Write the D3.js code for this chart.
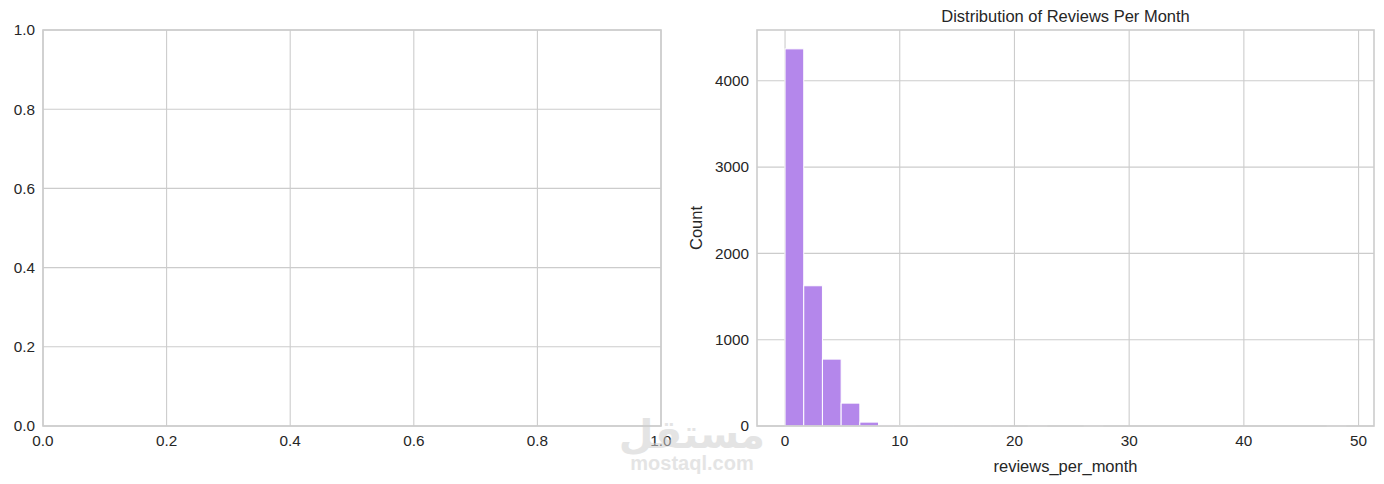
<!DOCTYPE html>
<html><head><meta charset="utf-8">
<script src="https://cdn.jsdelivr.net/npm/d3@7"></script>
<style>body{margin:0;background:#fff;} text{font-family:"Liberation Sans",Arial,sans-serif;fill:#262626;}</style>
</head><body>
<svg id="c" width="1384" height="484"></svg>
<script>
// ---- data ----
const emptyTicks = [0, 0.2, 0.4, 0.6, 0.8, 1.0];
const binStart = 0;
const binEnd = 48.9;
const binCounts = [4370, 1625, 775, 265, 45, 12, 6, 3, 2, 1, 1, 1, 0, 1, 0, 0, 1, 0, 0, 0, 0, 0, 0, 0, 0, 0, 0, 0, 0, 1];
const xTicks = [0, 10, 20, 30, 40, 50];
const yTicks = [0, 1000, 2000, 3000, 4000];
const title = "Distribution of Reviews Per Month";
const xLabel = "reviews_per_month";
const yLabel = "Count";

const svg = d3.select("#c");
const grid = "#cccccc";

function panel(x0, x1, y0, y1) { return {x0, x1, y0, y1}; }
const L = panel(43, 661, 30, 426);
const R = panel(757, 1374, 30, 426);

function drawGrid(g, p, xs, ys, xt, yt, xfmt, yfmt) {
  xt.forEach(v => g.append("line").attr("x1", xs(v)).attr("x2", xs(v)).attr("y1", p.y0).attr("y2", p.y1)
    .attr("stroke", grid).attr("stroke-width", 1.1));
  yt.forEach(v => g.append("line").attr("y1", ys(v)).attr("y2", ys(v)).attr("x1", p.x0).attr("x2", p.x1)
    .attr("stroke", grid).attr("stroke-width", 1.1));
  xt.forEach(v => g.append("text").attr("x", xs(v)).attr("y", p.y1 + 20).attr("text-anchor", "middle")
    .attr("font-size", "15.3px").text(xfmt(v)));
  yt.forEach(v => g.append("text").attr("x", p.x0 - 8).attr("y", ys(v)).attr("dy", "0.35em").attr("text-anchor", "end")
    .attr("font-size", "15.3px").text(yfmt(v)));
}
function drawFrame(g, p) {
  g.append("rect").attr("x", p.x0).attr("y", p.y0).attr("width", p.x1 - p.x0).attr("height", p.y1 - p.y0)
    .attr("fill", "none").attr("stroke", grid).attr("stroke-width", 1.6);
}

// ---- left empty axes ----
const gL = svg.append("g");
const xL = d3.scaleLinear().domain([0, 1]).range([L.x0, L.x1]);
const yL = d3.scaleLinear().domain([0, 1]).range([L.y1, L.y0]);
drawGrid(gL, L, xL, yL, emptyTicks, emptyTicks, d3.format(".1f"), d3.format(".1f"));
drawFrame(gL, L);

// ---- right histogram ----
const gR = svg.append("g");
const nb = binCounts.length;
const bw = (binEnd - binStart) / nb;
const bins = binCounts.map((c, i) => ({x0: binStart + i * bw, x1: binStart + (i + 1) * bw, c}));
const span = binEnd - binStart;
const xR = d3.scaleLinear().domain([binStart - 0.05 * span, binEnd + 0.05 * span]).range([R.x0, R.x1]);
const maxC = d3.max(binCounts);
const yR = d3.scaleLinear().domain([0, maxC * 1.05]).range([R.y1, R.y0]);
drawGrid(gR, R, xR, yR, xTicks, yTicks, d3.format("d"), d3.format("d"));

gR.selectAll("rect.bar").data(bins.filter(b => b.c > 0)).enter().append("rect")
  .attr("class", "bar")
  .attr("x", d => xR(d.x0)).attr("width", d => xR(d.x1) - xR(d.x0))
  .attr("y", d => yR(d.c)).attr("height", d => yR(0) - yR(d.c))
  .attr("fill", "#b487eb").attr("stroke", "#ffffff").attr("stroke-width", 1);
drawFrame(gR, R);

gR.append("text").attr("x", (R.x0 + R.x1) / 2).attr("y", 22).attr("text-anchor", "middle")
  .attr("font-size", "16.5px").text(title);
gR.append("text").attr("x", (R.x0 + R.x1) / 2).attr("y", 472).attr("text-anchor", "middle")
  .attr("font-size", "16.5px").text(xLabel);
gR.append("text").attr("transform", `translate(702,${(R.y0 + R.y1) / 2}) rotate(-90)`).attr("text-anchor", "middle")
  .attr("font-size", "16.5px").text(yLabel);

// ---- watermark ----
const wm = svg.append("g").attr("opacity", 0.55);
wm.append("text").attr("x", 692).attr("y", 448).attr("text-anchor", "middle")
  .attr("font-size", "40px").attr("font-weight", "bold").style("fill", "#cfcfcf")
  .style("font-family", "'DejaVu Sans','Noto Sans',sans-serif").text("مستقل");
wm.append("text").attr("x", 692).attr("y", 470).attr("text-anchor", "middle")
  .attr("font-size", "20px").attr("font-weight", "bold").style("fill", "#cfcfcf").text("mostaql.com");
</script>
</body></html>
